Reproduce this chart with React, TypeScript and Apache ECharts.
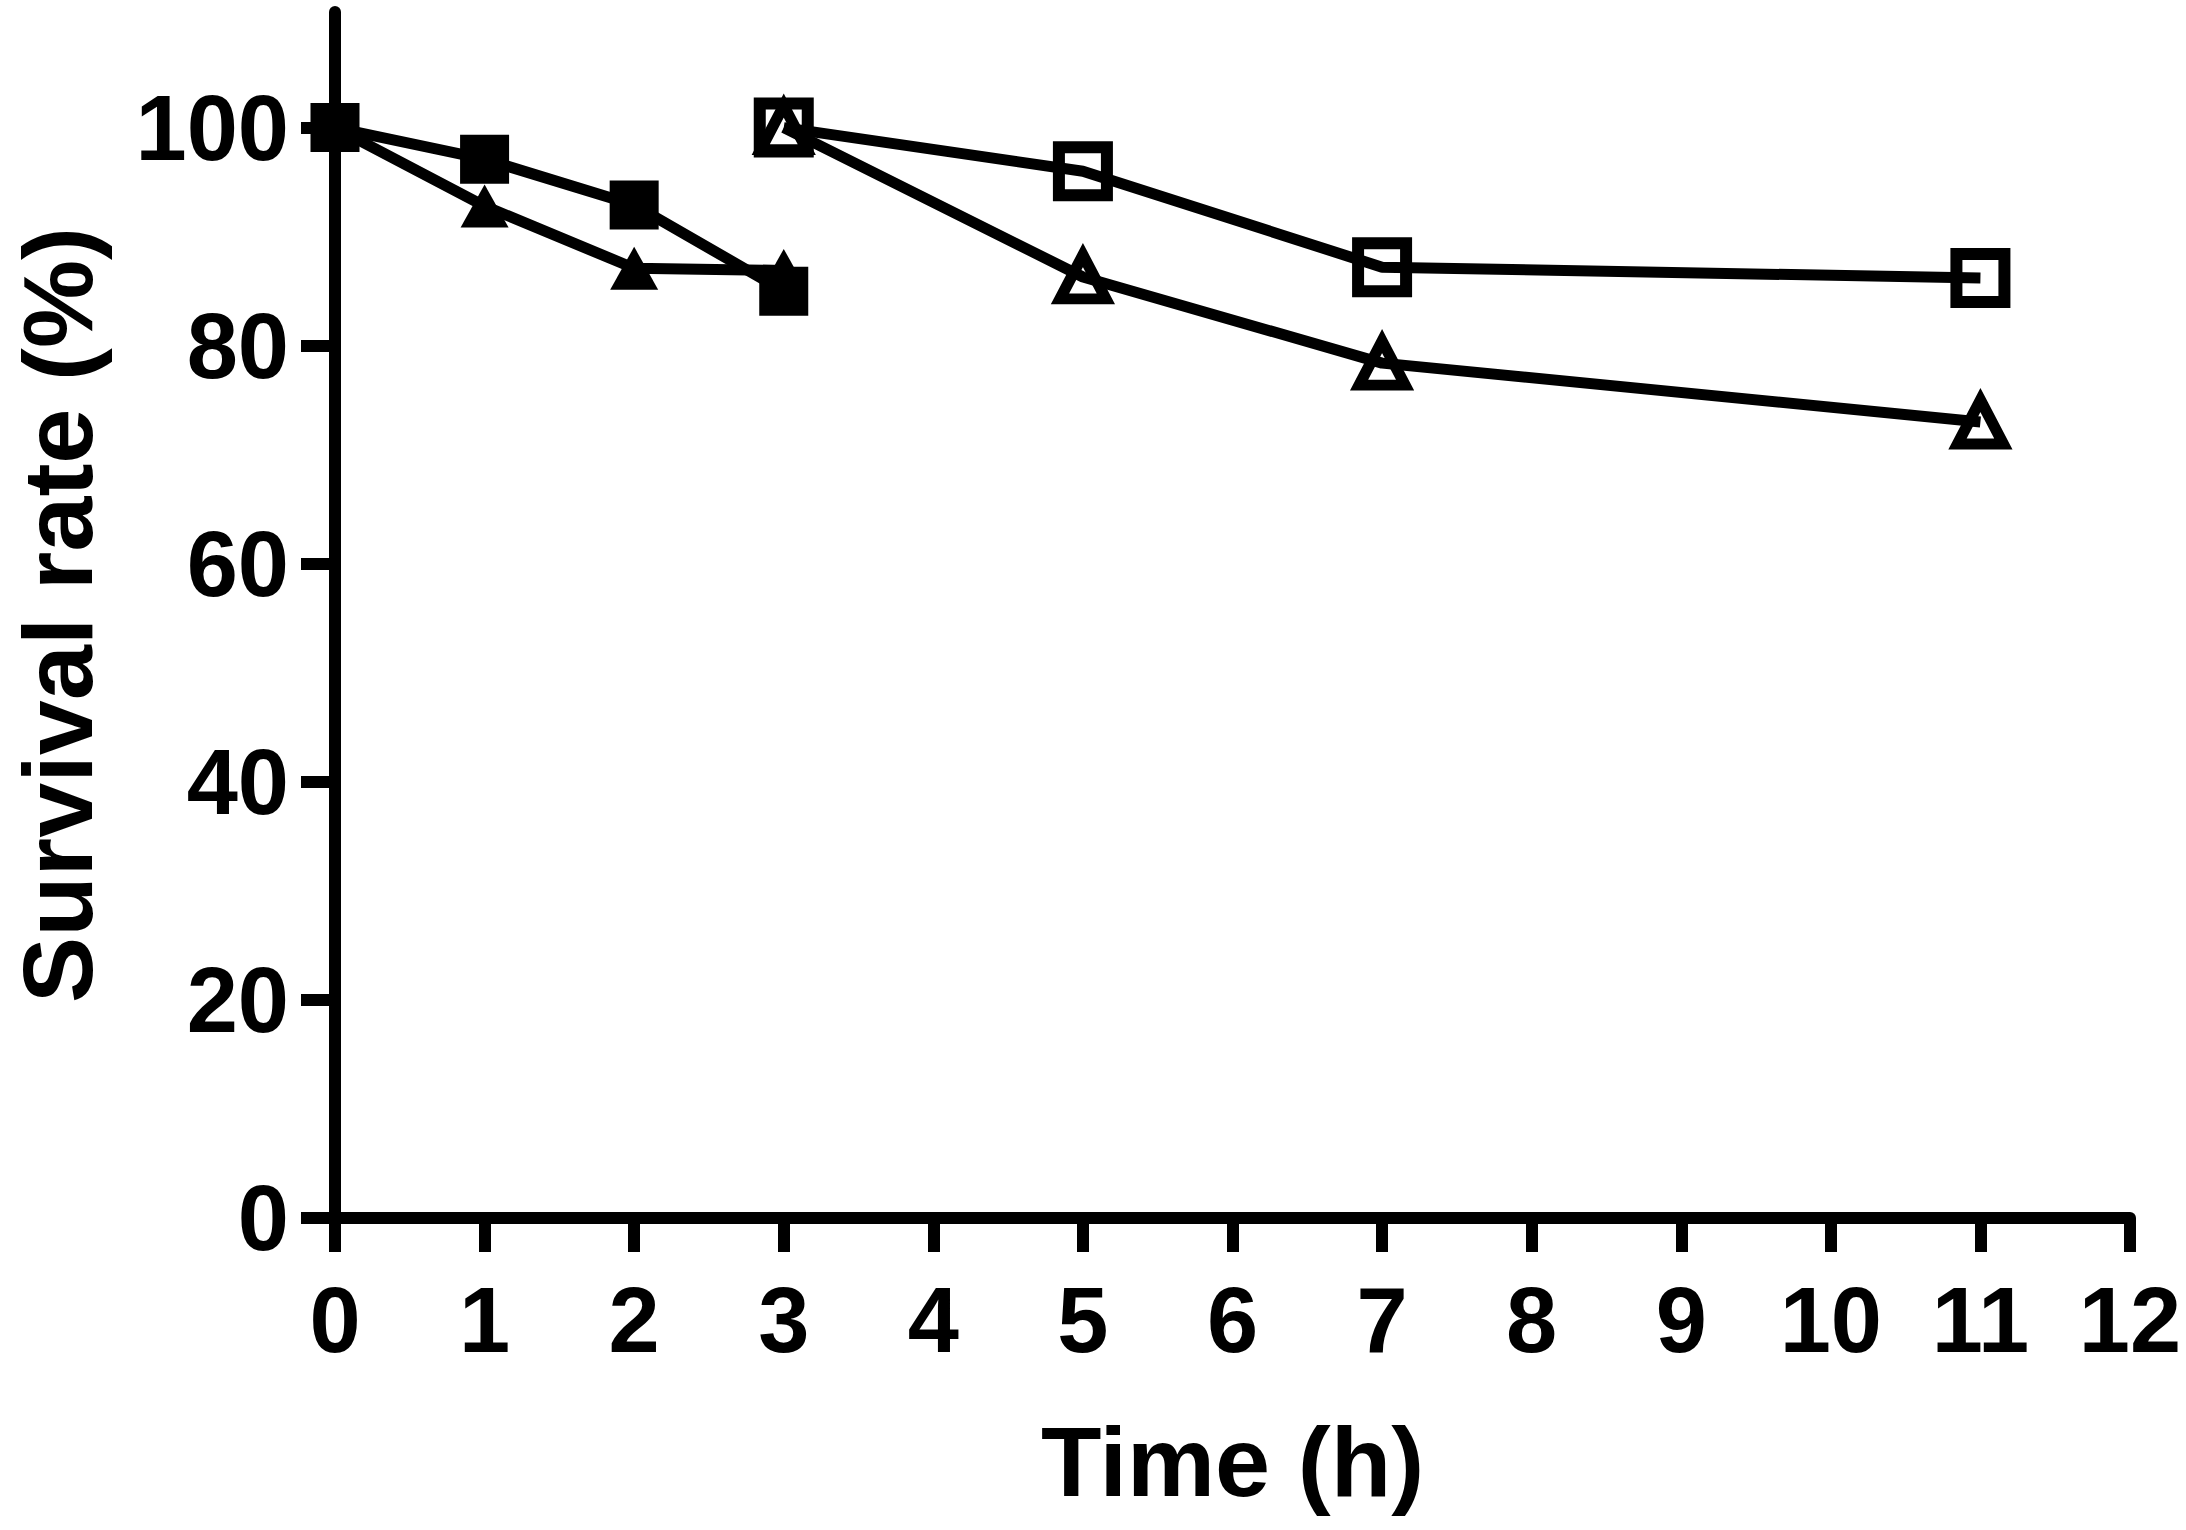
import React, { useEffect, useRef } from "react";
import * as echarts from "echarts";

// Time (h) for each series
const filledTimes = [0, 1, 2, 3];
const openTimes = [3, 5, 7, 11];

// Survival rate (%)
const filledSquareValues = [100, 97.1, 92.9, 85.0];
const filledTriangleValues = [100, 92.8, 87.1, 86.9];
const openSquareValues = [100, 96.0, 87.2, 86.2];
const openTriangleValues = [100, 86.3, 78.4, 73.0];

const yTickValues = [0, 20, 40, 60, 80, 100];
const xTickValues = [0, 1, 2, 3, 4, 5, 6, 7, 8, 9, 10, 11, 12];

const xTitle = "Time (h)";
const yTitle = "Survival rate (%)";

const FONT = "'Liberation Sans', Arial, Helvetica, sans-serif";

function pairs(xs: number[], ys: number[]) {
  return xs.map((x, i) => [x, ys[i]]);
}

export default function App() {
  const ref = useRef<HTMLDivElement>(null);

  useEffect(() => {
    if (!ref.current) return;
    const chart = echarts.init(ref.current, null, { renderer: "svg" });

    const lineStyle = { color: "#000", width: 11 };

    chart.setOption({
      animation: false,
      backgroundColor: "#fff",
      grid: { left: 331, right: 56, top: 12, bottom: 312, containLabel: false },
      xAxis: {
        type: "value",
        min: 0,
        max: 12,
        interval: 1,
        name: xTitle,
        nameLocation: "middle",
        nameGap: 194,
        nameTextStyle: { fontFamily: FONT, fontWeight: "bold", fontSize: 99, color: "#000" },
        axisLine: { show: true, onZero: false, lineStyle: { color: "#000", width: 12 } },
        axisTick: { show: true, length: 34, lineStyle: { color: "#000", width: 12 }, customValues: xTickValues },
        axisLabel: {
          customValues: xTickValues,
          margin: 56,
          fontFamily: FONT,
          fontWeight: "bold",
          fontSize: 92,
          lineHeight: 92,
          color: "#000",
          showMinLabel: true,
          showMaxLabel: true,
        },
        splitLine: { show: false },
      },
      yAxis: {
        type: "value",
        min: 0,
        max: 110.6,
        name: yTitle,
        nameLocation: "middle",
        nameGap: 228,
        nameTextStyle: { fontFamily: FONT, fontWeight: "bold", fontSize: 99, color: "#000" },
        axisLine: { show: true, onZero: false, lineStyle: { color: "#000", width: 12 } },
        axisTick: { show: true, length: 34, lineStyle: { color: "#000", width: 12 }, customValues: yTickValues },
        axisLabel: {
          customValues: yTickValues,
          margin: 46,
          fontFamily: FONT,
          fontWeight: "bold",
          fontSize: 92,
          color: "#000",
        },
        splitLine: { show: false },
      },
      series: [
        {
          type: "line",
          name: "filled triangle",
          data: pairs(filledTimes, filledTriangleValues),
          symbol: "triangle",
          symbolSize: [48, 43],
          showAllSymbol: true,
          clip: false,
          lineStyle,
          itemStyle: { color: "#000", borderWidth: 0 },
          z: 3,
        },
        {
          type: "line",
          name: "filled square",
          data: pairs(filledTimes, filledSquareValues),
          symbol: "rect",
          symbolSize: 49,
          showAllSymbol: true,
          clip: false,
          lineStyle,
          itemStyle: { color: "#000", borderWidth: 0 },
          z: 4,
        },
        {
          type: "line",
          name: "open square",
          data: pairs(openTimes, openSquareValues),
          symbol: "rect",
          symbolSize: 48,
          showAllSymbol: true,
          clip: false,
          lineStyle,
          itemStyle: { color: "rgba(0,0,0,0)", borderColor: "#000", borderWidth: 12 },
          z: 3,
        },
        {
          type: "line",
          name: "open triangle",
          data: pairs(openTimes, openTriangleValues),
          symbol: "triangle",
          symbolSize: [46, 44],
          showAllSymbol: true,
          clip: false,
          lineStyle,
          itemStyle: { color: "rgba(0,0,0,0)", borderColor: "#000", borderWidth: 11 },
          z: 4,
        },
      ],
    });

    return () => chart.dispose();
  }, []);

  return (
    <div
      ref={ref}
      style={{ position: "fixed", left: 0, top: 0, width: 2186, height: 1530, background: "#fff" }}
    />
  );
}
